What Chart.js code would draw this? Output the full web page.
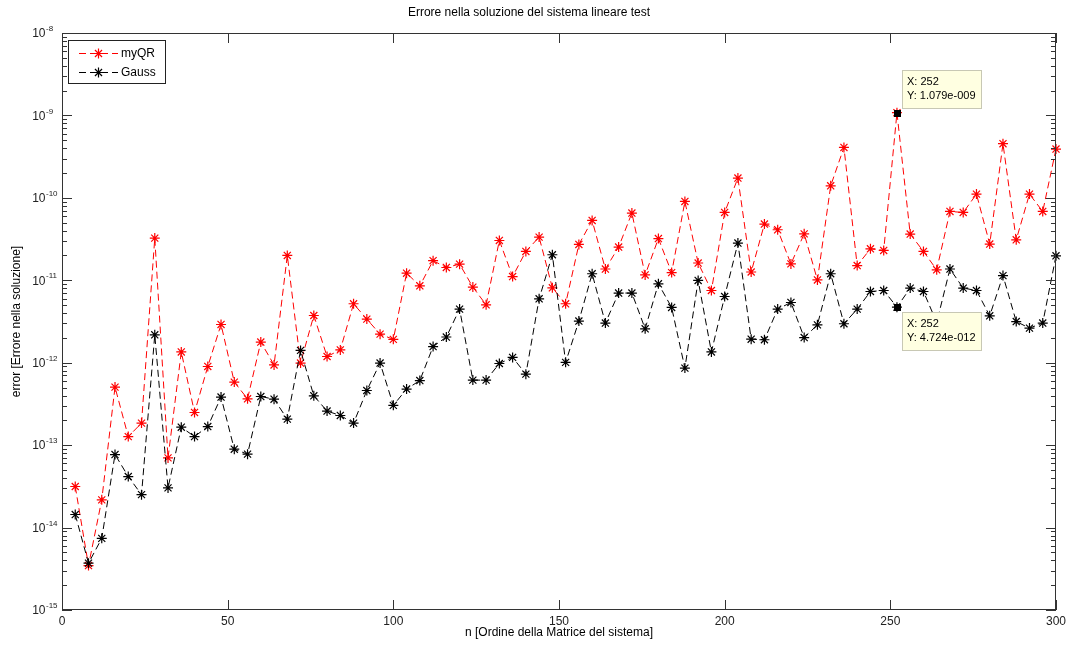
<!DOCTYPE html>
<html><head><meta charset="utf-8">
<script src="https://cdn.jsdelivr.net/npm/chart.js@4/dist/chart.umd.min.js"></script>
<style>html,body{margin:0;padding:0;background:#fff;overflow:hidden}canvas{display:block}</style>
</head><body>
<canvas id="c" width="1070" height="646"></canvas>
<script>
const chartTitle = 'Errore nella soluzione del sistema lineare test';
const xTitle = 'n [Ordine della Matrice del sistema]';
const yTitle = 'error [Errore nella soluzione]';
const seriesNames = ['myQR', 'Gauss'];

const sizes = [4,8,12,16,20,24,28,32,36,40,44,48,52,56,60,64,68,72,76,80,84,88,92,96,100,
  104,108,112,116,120,124,128,132,136,140,144,148,152,156,160,164,168,172,176,180,184,188,192,196,200,
  204,208,212,216,220,224,228,232,236,240,244,248,252,256,260,264,268,272,276,280,284,288,292,296,300];

const myQR = [3.15e-14,3.46e-15,2.17e-14,5.06e-13,1.27e-13,1.85e-13,3.25e-11,7.0e-14,1.35e-12,2.49e-13,
  9.0e-13,2.91e-12,5.82e-13,3.65e-13,1.78e-12,9.4e-13,2.0e-11,9.9e-13,3.74e-12,1.19e-12,
  1.43e-12,5.19e-12,3.38e-12,2.22e-12,1.92e-12,1.22e-11,8.57e-12,1.73e-11,1.43e-11,1.57e-11,
  8.27e-12,5.04e-12,3.04e-11,1.11e-11,2.24e-11,3.34e-11,8.11e-12,5.19e-12,2.72e-11,5.32e-11,
  1.37e-11,2.53e-11,6.54e-11,1.16e-11,3.21e-11,1.24e-11,9.04e-11,1.62e-11,7.52e-12,6.65e-11,
  1.74e-10,1.26e-11,4.81e-11,4.10e-11,1.58e-11,3.66e-11,1.01e-11,1.40e-10,4.09e-10,1.51e-11,
  2.41e-11,2.30e-11,1.079e-9,3.64e-11,2.24e-11,1.34e-11,6.84e-11,6.65e-11,1.11e-10,2.75e-11,
  4.54e-10,3.10e-11,1.11e-10,6.84e-11,3.91e-10];

const gauss = [1.44e-14,3.70e-15,7.40e-15,7.69e-14,4.16e-14,2.51e-14,2.18e-12,3.03e-14,1.65e-13,1.27e-13,
  1.68e-13,3.83e-13,8.93e-14,7.78e-14,3.89e-13,3.61e-13,2.07e-13,1.41e-12,3.97e-13,2.59e-13,
  2.29e-13,1.85e-13,4.60e-13,9.9e-13,3.04e-13,4.79e-13,6.08e-13,1.57e-12,2.05e-12,4.47e-12,
  6.15e-13,6.15e-13,9.78e-13,1.16e-12,7.27e-13,5.96e-12,2.04e-11,1.01e-12,3.20e-12,1.20e-11,
  3.03e-12,7.0e-12,7.0e-12,2.58e-12,9.07e-12,4.68e-12,8.6e-13,9.95e-12,1.35e-12,6.36e-12,
  2.83e-11,1.93e-12,1.90e-12,4.47e-12,5.38e-12,2.02e-12,2.88e-12,1.20e-11,2.97e-12,4.47e-12,
  7.31e-12,7.52e-12,4.724e-12,8.04e-12,7.31e-12,3.08e-12,1.37e-11,8.04e-12,7.52e-12,3.71e-12,
  1.14e-11,3.16e-12,2.63e-12,3.03e-12,1.98e-11];

const xTickValues = [0,50,100,150,200,250,300];
const yDecadeExponents = [-15,-14,-13,-12,-11,-10,-9,-8];
const tipSize = 252;
const tipLabels = [['X: 252','Y: 1.079e-009'],['X: 252','Y: 4.724e-012']];

const FONT = "'Liberation Sans', Arial, Helvetica, sans-serif";
const DASH = [7, 4];

const pts = arr => arr.map((v, i) => ({x: sizes[i], y: v}));

const matlabPlugin = {
  id: 'matlab',
  afterDatasetsDraw(chart) {
    const ctx = chart.ctx;
    const {left, right, top, bottom} = chart.chartArea;
    const xs = chart.scales.x, ys = chart.scales.y;
    ctx.save();
    ctx.strokeStyle = '#333';
    ctx.lineWidth = 1;
    ctx.setLineDash([]);
    ctx.strokeRect(Math.round(left) + 0.5, Math.round(top) + 0.5, Math.round(right - left) - 1, Math.round(bottom - top) - 1);
    ctx.beginPath();
    xTickValues.forEach(v => {
      const px = Math.round(xs.getPixelForValue(v)) + 0.5;
      ctx.moveTo(px, bottom); ctx.lineTo(px, bottom - 10);
      ctx.moveTo(px, top); ctx.lineTo(px, top + 10);
    });
    for (let e = -15; e <= -8; e++) {
      for (let m = 1; m <= 9; m++) {
        if (e === -8 && m > 1) break;
        const v = m * Math.pow(10, e);
        const py = Math.round(ys.getPixelForValue(v)) + 0.5;
        const len = m === 1 ? 10 : 5;
        ctx.moveTo(left, py); ctx.lineTo(left + len, py);
        ctx.moveTo(right, py); ctx.lineTo(right - len, py);
      }
    }
    ctx.stroke();
    // y tick labels: 10 with superscript exponent
    ctx.fillStyle = '#222';
    yDecadeExponents.forEach(e => {
      const py = ys.getPixelForValue(Math.pow(10, e));
      ctx.textBaseline = 'middle';
      ctx.textAlign = 'right';
      ctx.font = '12px ' + FONT;
      ctx.fillText('10', 45.5, py + 1);
      ctx.textAlign = 'left';
      ctx.font = '8px ' + FONT;
      ctx.fillText(String(e), 46, py - 4);
    });
    ctx.restore();
  },
  afterDraw(chart) {
    const ctx = chart.ctx;
    const xs = chart.scales.x, ys = chart.scales.y;
    ctx.save();
    // legend
    const lx = 68, ly = 40, lw = 97, lh = 43;
    ctx.fillStyle = '#fff';
    ctx.fillRect(lx, ly, lw, lh);
    ctx.strokeStyle = '#222';
    ctx.lineWidth = 1;
    ctx.strokeRect(lx + 0.5, ly + 0.5, lw, lh);
    chart.data.datasets.forEach((ds, i) => {
      const y = [53, 72][i];
      ctx.strokeStyle = ds.borderColor;
      ctx.lineWidth = 1;
      ctx.setLineDash(DASH);
      ctx.beginPath();
      ctx.moveTo(79, y + 0.5); ctx.lineTo(118, y + 0.5);
      ctx.stroke();
      ctx.setLineDash([]);
      ctx.lineWidth = 1.2;
      Chart.helpers.drawPoint(ctx, {pointStyle: 'star', radius: 5, borderWidth: 1.2}, 98.5, y + 0.5);
      ctx.fillStyle = '#000';
      ctx.font = '12px ' + FONT;
      ctx.textBaseline = 'middle';
      ctx.textAlign = 'left';
      ctx.fillText(ds.label, 121, y + 1);
    });
    // data tips
    const idx = sizes.indexOf(tipSize);
    const px = xs.getPixelForValue(tipSize);
    [myQR[idx], gauss[idx]].forEach((v, k) => {
      const py = ys.getPixelForValue(v);
      ctx.fillStyle = '#000';
      ctx.fillRect(Math.round(px) - 3, Math.round(py) - 3, 7, 7);
      const bx = Math.round(px) + 5, bw = 79, bh = 38;
      const by = k === 0 ? Math.round(py) - 5 - bh : Math.round(py) + 5;
      ctx.fillStyle = '#ffffe1';
      ctx.fillRect(bx, by, bw, bh);
      ctx.strokeStyle = '#c8c8b4';
      ctx.lineWidth = 1;
      ctx.strokeRect(bx + 0.5, by + 0.5, bw, bh);
      ctx.fillStyle = '#000';
      ctx.font = '11px ' + FONT;
      ctx.textBaseline = 'middle';
      ctx.textAlign = 'left';
      ctx.fillText(tipLabels[k][0], bx + 5, by + 12);
      ctx.fillText(tipLabels[k][1], bx + 5, by + 26);
    });
    ctx.restore();
  }
};

new Chart(document.getElementById('c'), {
  type: 'line',
  data: {
    datasets: [
      {label: seriesNames[0], data: pts(myQR), borderColor: '#ff0000', backgroundColor: '#ff0000',
       borderWidth: 1, borderDash: DASH, pointStyle: 'star', pointRadius: 5, pointBorderWidth: 1.2,
       pointBorderColor: '#ff0000', tension: 0, fill: false, clip: false, order: 2},
      {label: seriesNames[1], data: pts(gauss), borderColor: '#000000', backgroundColor: '#000000',
       borderWidth: 1, borderDash: DASH, pointStyle: 'star', pointRadius: 5, pointBorderWidth: 1.2,
       pointBorderColor: '#000000', tension: 0, fill: false, clip: false, order: 1}
    ]
  },
  options: {
    responsive: false,
    animation: false,
    devicePixelRatio: 1,
    layout: {padding: {left: 0, right: 12, top: 0, bottom: 0}},
    plugins: {
      legend: {display: false},
      tooltip: {enabled: false},
      title: {display: true, text: chartTitle, color: '#000',
        font: {family: FONT, size: 12, weight: 'normal'}, padding: {top: 5, bottom: 13.6}}
    },
    scales: {
      x: {
        type: 'linear', min: 0, max: 300,
        grid: {display: false, drawTicks: false},
        border: {display: false},
        ticks: {color: '#222', font: {family: FONT, size: 12}, padding: 4, autoSkip: false, maxRotation: 0},
        afterBuildTicks: s => { s.ticks = xTickValues.map(v => ({value: v})); },
        afterFit: s => { s.height = 36; },
        title: {display: true, text: xTitle, color: '#000', font: {family: FONT, size: 12}, padding: {top: 0, bottom: 5.8}}
      },
      y: {
        type: 'logarithmic', min: 1e-15, max: 1e-8,
        grid: {display: false, drawTicks: false},
        border: {display: false},
        ticks: {display: false},
        afterBuildTicks: s => { s.ticks = yDecadeExponents.map(e => ({value: Math.pow(10, e)})); },
        afterFit: s => { s.width = 62; },
        title: {display: true, text: yTitle, color: '#000', font: {family: FONT, size: 12}, padding: {top: 9.8, bottom: 0}}
      }
    }
  },
  plugins: [matlabPlugin]
});
</script>
</body></html>
